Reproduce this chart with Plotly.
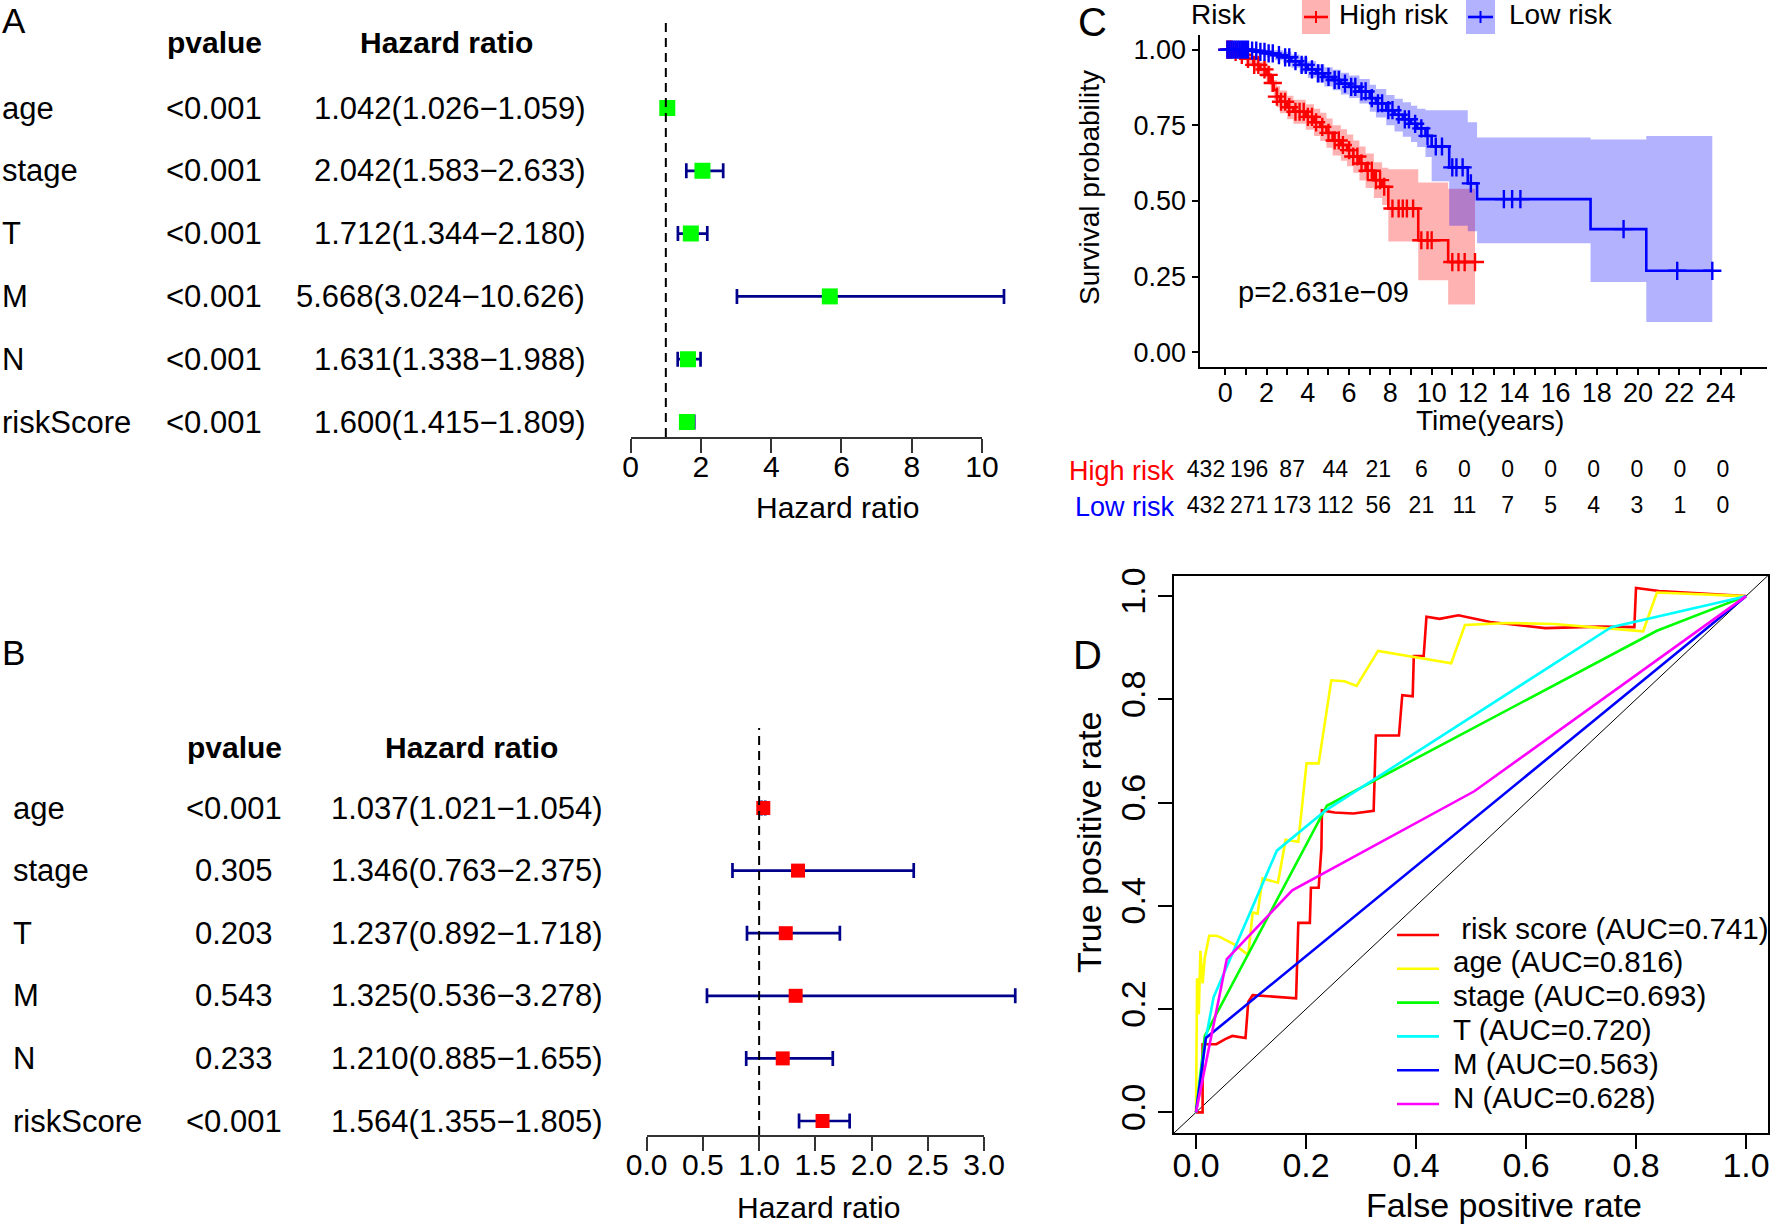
import numpy as np
import plotly.graph_objects as go

W, H = 1770, 1225
FONT = "Liberation Sans, Arial, Helvetica, sans-serif"

# ---------------- data ----------------
variables = ["age", "stage", "T", "M", "N", "riskScore"]

uni_p = ["<0.001", "<0.001", "<0.001", "<0.001", "<0.001", "<0.001"]
uni_hr = [1.042, 2.042, 1.712, 5.668, 1.631, 1.600]
uni_low = [1.026, 1.583, 1.344, 3.024, 1.338, 1.415]
uni_high = [1.059, 2.633, 2.180, 10.626, 1.988, 1.809]

multi_p = ["<0.001", "0.305", "0.203", "0.543", "0.233", "<0.001"]
multi_hr = [1.037, 1.346, 1.237, 1.325, 1.210, 1.564]
multi_low = [1.021, 0.763, 0.892, 0.536, 0.885, 1.355]
multi_high = [1.054, 2.375, 1.718, 3.278, 1.655, 1.805]

uni_ticks = [0, 2, 4, 6, 8, 10]
multi_ticks = [0.0, 0.5, 1.0, 1.5, 2.0, 2.5, 3.0]

# Kaplan-Meier
high_time = [0, 0.4, 0.7, 1.0, 1.36, 1.7, 2.0, 2.2, 2.35, 2.5, 2.65, 3.0, 3.3, 3.9, 4.3, 4.6, 4.9, 5.2,
             5.6, 5.9, 6.2, 6.5, 6.8, 7.2, 7.6, 7.9, 9.35, 10.8]
high_surv = [1.0, 0.993, 0.983, 0.97, 0.95, 0.935, 0.917, 0.89, 0.867, 0.845, 0.828, 0.81, 0.795, 0.778,
             0.76, 0.745, 0.725, 0.70, 0.685, 0.668, 0.647, 0.624, 0.60, 0.569, 0.547, 0.475, 0.37, 0.298]
high_upper = [1.0, 1.0, 0.995, 0.988, 0.972, 0.96, 0.945, 0.92, 0.9, 0.88, 0.865, 0.848, 0.835, 0.82,
              0.805, 0.792, 0.773, 0.75, 0.737, 0.72, 0.70, 0.68, 0.657, 0.628, 0.61, 0.605, 0.561, 0.54]
high_lower = [1.0, 0.985, 0.97, 0.952, 0.928, 0.91, 0.89, 0.86, 0.835, 0.81, 0.79, 0.77, 0.755, 0.735,
              0.715, 0.698, 0.676, 0.65, 0.633, 0.615, 0.593, 0.568, 0.543, 0.51, 0.487, 0.366, 0.238, 0.158]
high_end = 12.1
high_censor = [0.1, 0.2, 0.3, 0.5, 0.8, 1.1, 1.4, 1.6, 1.9, 2.1, 2.3, 2.5, 2.7, 2.9, 3.1, 3.4, 3.6, 3.8,
               4.0, 4.2, 4.4, 4.7, 5.0, 5.3, 5.5, 5.7, 6.0, 6.2, 6.4, 6.6, 6.9, 7.1, 7.3, 7.5, 7.7, 8.1,
               8.4, 8.6, 8.8, 9.1, 9.5, 9.8, 10.0, 11.0, 11.3, 11.6, 12.1]

low_time = [0, 1.2, 1.6, 2.0, 2.4, 2.8, 3.2, 3.6, 4.0, 4.4, 4.8, 5.2, 5.6, 6.0, 6.5, 7.0, 7.3, 7.8, 8.2,
            8.6, 9.0, 9.3, 9.7, 10.0, 10.85, 11.75, 12.2, 17.7, 20.4]
low_surv = [1.0, 0.997, 0.993, 0.988, 0.982, 0.975, 0.962, 0.95, 0.935, 0.922, 0.91, 0.9, 0.888, 0.877,
            0.862, 0.84, 0.823, 0.80, 0.785, 0.77, 0.755, 0.74, 0.715, 0.68, 0.611, 0.558, 0.506, 0.407, 0.269]
low_upper = [1.0, 1.0, 1.0, 1.0, 0.998, 0.993, 0.984, 0.975, 0.962, 0.952, 0.942, 0.934, 0.924, 0.915,
             0.903, 0.884, 0.87, 0.85, 0.838, 0.826, 0.815, 0.805, 0.80, 0.80, 0.80, 0.76, 0.71, 0.703, 0.715]
low_lower = [1.0, 0.99, 0.984, 0.975, 0.965, 0.955, 0.94, 0.925, 0.907, 0.892, 0.878, 0.866, 0.852, 0.84,
             0.822, 0.795, 0.776, 0.75, 0.73, 0.712, 0.695, 0.678, 0.645, 0.565, 0.418, 0.40, 0.36, 0.232, 0.10]
low_end = 23.6
low_censor = [0.1, 0.2, 0.3, 0.4, 0.5, 0.6, 0.7, 0.8, 0.9, 1.0, 1.1, 1.3, 1.5, 1.7, 1.9, 2.1, 2.3, 2.6,
              2.9, 3.1, 3.4, 3.7, 3.9, 4.2, 4.5, 4.7, 5.0, 5.3, 5.5, 5.8, 6.1, 6.3, 6.6, 6.8, 7.1, 7.4,
              7.6, 7.9, 8.1, 8.4, 8.7, 8.9, 9.2, 9.5, 9.8, 10.2, 10.5, 11.0, 11.2, 11.5, 11.9, 13.5,
              13.9, 14.3, 19.3, 21.9, 23.6]
km_pvalue = "p=2.631e\u221209"

table_times = [0, 2, 4, 6, 8, 10, 12, 14, 16, 18, 20, 22, 24]
high_at_risk = [432, 196, 87, 44, 21, 6, 0, 0, 0, 0, 0, 0, 0]
low_at_risk = [432, 271, 173, 112, 56, 21, 11, 7, 5, 4, 3, 1, 0]
km_major_ticks = [0, 2, 4, 6, 8, 10, 12, 14, 16, 18, 20, 22, 24]
km_minor_ticks = list(range(0, 26))

# ROC curves
roc_names = ["risk score", "age", "stage", "T", "M", "N"]
roc_auc = [0.741, 0.816, 0.693, 0.720, 0.563, 0.628]
roc_colors = ["#FF0000", "#FFFF00", "#00FF00", "#00FFFF", "#0000FF", "#FF00FF"]
rs_fpr = [0, 0.012, 0.012, 0.037, 0.053, 0.066, 0.09, 0.095, 0.103, 0.153, 0.182, 0.186, 0.207, 0.209,
          0.223, 0.228, 0.229, 0.252, 0.286, 0.323, 0.327, 0.369, 0.375, 0.394, 0.396, 0.414, 0.419,
          0.443, 0.477, 0.535, 0.635, 0.734, 0.797, 0.8, 0.842, 1.0]
rs_tpr = [0, 0, 0.132, 0.132, 0.142, 0.148, 0.144, 0.214, 0.227, 0.224, 0.221, 0.367, 0.367, 0.435,
          0.435, 0.511, 0.585, 0.581, 0.579, 0.584, 0.73, 0.73, 0.808, 0.806, 0.884, 0.884, 0.96,
          0.956, 0.963, 0.95, 0.938, 0.941, 0.94, 1.016, 1.01, 1.0]
age_fpr = [0, 0.002, 0.005, 0.008, 0.012, 0.016, 0.024, 0.037, 0.045, 0.07, 0.095, 0.103, 0.112, 0.121,
           0.149, 0.163, 0.186, 0.201, 0.223, 0.246, 0.27, 0.292, 0.331, 0.464, 0.489, 0.568, 0.651,
           0.813, 0.838, 1.0]
age_tpr = [0, 0.26, 0.19, 0.313, 0.25, 0.3, 0.342, 0.342, 0.339, 0.325, 0.305, 0.387, 0.385, 0.453,
           0.445, 0.528, 0.524, 0.676, 0.676, 0.837, 0.835, 0.826, 0.894, 0.87, 0.944, 0.948, 0.946,
           0.932, 1.007, 1.0]
stage_fpr = [0, 0.016, 0.238, 0.838, 1.0]
stage_tpr = [0, 0.148, 0.594, 0.933, 1.0]
t_fpr = [0, 0.018, 0.032, 0.147, 0.236, 0.755, 1.0]
t_tpr = [0, 0.144, 0.223, 0.507, 0.585, 0.94, 1.0]
m_fpr = [0, 0.018, 1.0]
m_tpr = [0, 0.144, 1.0]
n_fpr = [0, 0.056, 0.175, 0.506, 1.0]
n_tpr = [0, 0.297, 0.43, 0.622, 1.0]
roc_fpr = [rs_fpr, age_fpr, stage_fpr, t_fpr, m_fpr, n_fpr]
roc_tpr = [rs_tpr, age_tpr, stage_tpr, t_tpr, m_tpr, n_tpr]
roc_ticks = [0.0, 0.2, 0.4, 0.6, 0.8, 1.0]


# ---------------- helpers ----------------
def xp(p):
    return p / W


def yp(p):
    return 1 - p / H


fig = go.Figure()
annotations = []
shapes = []


def txt(text, x, y, size, xanchor="center", yanchor="middle", color="black", bold=False,
        xref="paper", yref="paper", angle=0):
    annotations.append(dict(
        text=("<b>%s</b>" % text) if bold else text, x=x, y=y, xref=xref, yref=yref,
        xanchor=xanchor, yanchor=yanchor, showarrow=False, textangle=angle,
        font=dict(family=FONT, size=size, color=color)))


CI_COLOR = "#00008B"
AX_COLOR = "#333333"


def forest(hr, lo, hi, pvals, color, msize, xa, xd, ya, ticks, cfg, layout_axes):
    rows = np.arange(1, len(hr) + 1)
    hr = np.array(hr)
    lo = np.array(lo)
    hi = np.array(hi)
    fig.add_trace(go.Scatter(
        x=hr, y=rows, mode="markers", xaxis=xa, yaxis=ya, hoverinfo="skip",
        marker=dict(symbol="square", size=msize, color=color, line=dict(width=0)),
        error_x=dict(type="data", symmetric=False, array=hi - hr, arrayminus=hr - lo,
                     color=CI_COLOR, thickness=2.7, width=7.5)))
    # holder for the displayed axis
    fig.add_trace(go.Scatter(x=[ticks[0], ticks[-1]], y=[None, None], mode="markers",
                             xaxis=xd, yaxis=ya, hoverinfo="skip"))
    r0, gap = cfg["row0"], cfg["gap"]
    vb = 1 + (cfg["axis_py"] - r0) / gap
    vt = 1 + (cfg["top_py"] - r0) / gap
    x0, unit = cfg["x0px"], cfg["unit"]
    dr = cfg["data_range"]
    yname = "yaxis" + ya[1:]
    layout_axes["xaxis" + xa[1:]] = dict(
        domain=[xp(x0 + dr[0] * unit), xp(x0 + dr[1] * unit)], range=dr, visible=False,
        anchor=ya, showgrid=False, zeroline=False, automargin=False)
    layout_axes["xaxis" + xd[1:]] = dict(
        domain=[xp(x0 + ticks[0] * unit), xp(x0 + ticks[-1] * unit)],
        range=[ticks[0], ticks[-1]], anchor=ya, tickvals=ticks, tickformat=cfg["fmt"],
        showline=True, linecolor=AX_COLOR, linewidth=2, ticks="outside", ticklen=14, tickwidth=2,
        tickcolor=AX_COLOR, showgrid=False, zeroline=False, automargin=False,
        ticklabelstandoff=-12,
        tickfont=dict(family=FONT, size=30, color="black"))
    layout_axes[yname] = dict(domain=[yp(cfg["axis_py"]), yp(cfg["top_py"])], range=[vb, vt],
                              visible=False, anchor=xa, showgrid=False, zeroline=False,
                              automargin=False)
    shapes.append(dict(type="line", xref=xa, yref=ya + " domain", x0=1, x1=1, y0=0, y1=1,
                       line=dict(color="black", width=2, dash="9px,6px")))
    for i, r in enumerate(rows):
        txt(variables[i], xp(cfg["lab_x"]), r, 31, xanchor="left", yref=ya)
        txt(pvals[i], xp(cfg["p_x"]), r, 31, xanchor="center", yref=ya)
        txt("%.3f(%.3f\u2212%.3f)" % (hr[i], lo[i], hi[i]), xp(cfg["hr_x"]), r, 31,
            xanchor="right", yref=ya)
    txt("pvalue", xp(cfg["p_x"]), yp(cfg["head_py"]), 30, bold=True)
    txt("Hazard ratio", xp(cfg["head_hr_x"]), yp(cfg["head_py"]), 30, bold=True)
    txt("Hazard ratio", xp(cfg["title_x"]), yp(cfg["title_py"]), 30)


axes = {}

cfgA = dict(row0=108, gap=62.8, axis_py=437, top_py=22.6, x0px=630.7, unit=35.13,
            data_range=[-0.6, 11.6], fmt="d", lab_x=0, p_x=214, hr_x=587, head_py=43,
            head_hr_x=446, title_x=837, title_py=508)
forest(uni_hr, uni_low, uni_high, uni_p, "#00FF00", 16, "x", "x2", "y", uni_ticks, cfgA, axes)

cfgB = dict(row0=808, gap=62.6, axis_py=1135, top_py=728, x0px=646.7, unit=112.43,
            data_range=[-0.15, 3.6], fmt=".1f", lab_x=11, p_x=234, hr_x=604, head_py=747,
            head_hr_x=471, title_x=818, title_py=1207)
forest(multi_hr, multi_low, multi_high, multi_p, "#FF0000", 14, "x3", "x4", "y3", multi_ticks, cfgB, axes)

# ---------------- Kaplan-Meier ----------------
RED_FILL = "rgba(255,0,0,0.30)"
BLUE_FILL = "rgba(0,0,255,0.30)"


def step_at(times, values, t):
    idx = np.searchsorted(np.array(times), np.array(t), side="right") - 1
    return np.array(values)[idx]


for times, upper, lower, end, fill in [
        (high_time, high_upper, high_lower, high_end, RED_FILL),
        (low_time, low_upper, low_lower, low_end, BLUE_FILL)]:
    xs = list(times) + [end]
    fig.add_trace(go.Scatter(x=xs, y=list(upper) + [upper[-1]], mode="lines",
                             line=dict(width=0, shape="hv"), xaxis="x5", yaxis="y5", hoverinfo="skip"))
    fig.add_trace(go.Scatter(x=xs, y=list(lower) + [lower[-1]], mode="lines",
                             line=dict(width=0, shape="hv"), fill="tonexty", fillcolor=fill,
                             xaxis="x5", yaxis="y5", hoverinfo="skip"))

for times, surv, end, cens, col in [
        (high_time, high_surv, high_end, high_censor, "#FF0000"),
        (low_time, low_surv, low_end, low_censor, "#0000FF")]:
    fig.add_trace(go.Scatter(x=list(times) + [end], y=list(surv) + [surv[-1]], mode="lines",
                             line=dict(color=col, width=2.6, shape="hv"),
                             xaxis="x5", yaxis="y5", hoverinfo="skip"))
    fig.add_trace(go.Scatter(x=cens, y=step_at(times, surv, cens), mode="markers",
                             marker=dict(symbol="cross-thin-open", size=13, color=col,
                                         line=dict(color=col, width=2.4)),
                             xaxis="x5", yaxis="y5", hoverinfo="skip"))

km_axis_style = dict(showline=True, linecolor="black", linewidth=2, ticks="outside", ticklen=6,
                     tickwidth=2, tickcolor="black", showgrid=False, zeroline=False, automargin=False,
                     tickfont=dict(family=FONT, size=27, color="black"))
axes["xaxis5"] = dict(domain=[xp(1199.5), xp(1767)], range=[-1.25, 26.25], anchor="y5",
                      tickvals=km_major_ticks, ticklabelstandoff=-6,
                      minor=dict(tickvals=km_minor_ticks, ticks="outside", ticklen=6, tickwidth=2,
                                 tickcolor="black", showgrid=False),
                      **km_axis_style)
axes["yaxis5"] = dict(domain=[yp(367.3), yp(34.6)], range=[-0.05, 1.05], anchor="x5",
                      tickvals=[0, 0.25, 0.5, 0.75, 1.0], tickformat=".2f", **km_axis_style)

txt(km_pvalue, 0.5, 0.2, 29, xanchor="left", xref="x5", yref="y5")
txt("Survival probability", xp(1089), yp(188), 28, angle=-90)
txt("Time(years)", xp(1490), yp(420), 28)

# legend of KM
txt("Risk", xp(1189), yp(14), 28, xanchor="left")
for (p0, p1), col, fill, lab, lx in [((1302, 1330), "#FF0000", RED_FILL, "High risk", 1337),
                                      ((1466, 1495), "#0000FF", BLUE_FILL, "Low risk", 1507)]:
    shapes.append(dict(type="rect", xref="paper", yref="paper", x0=xp(p0), x1=xp(p1), y0=yp(34), y1=yp(0),
                       fillcolor=fill, line=dict(width=0)))
    shapes.append(dict(type="line", xref="paper", yref="paper", x0=xp(p0 + 2), x1=xp(p1 - 2),
                       y0=yp(17), y1=yp(17), line=dict(color=col, width=2.6)))
    shapes.append(dict(type="line", xref="paper", yref="paper", x0=xp((p0 + p1) / 2), x1=xp((p0 + p1) / 2),
                       y0=yp(11), y1=yp(23), line=dict(color=col, width=2)))
    txt(lab, xp(lx), yp(14), 28, xanchor="left")

# number-at-risk table
fig.add_trace(go.Scatter(x=table_times + table_times, y=[1] * len(table_times) + [2] * len(table_times),
                         text=[str(v) for v in high_at_risk + low_at_risk], mode="text",
                         textfont=dict(family=FONT, size=23, color="black"),
                         xaxis="x6", yaxis="y6", hoverinfo="skip"))
tab_x0, tab_unit = 1206.0, 21.54
axes["xaxis6"] = dict(domain=[xp(tab_x0 - tab_unit), xp(tab_x0 + 25 * tab_unit)], range=[-1, 25],
                      visible=False, anchor="y6", automargin=False)
axes["yaxis6"] = dict(domain=[yp(525), yp(453)], range=[2.5, 0.5], visible=False, anchor="x6",
                      automargin=False)
txt("High risk", xp(1177), 1, 27, xanchor="right", color="#FF0000", yref="y6")
txt("Low risk", xp(1177), 2, 27, xanchor="right", color="#0000FF", yref="y6")

# ---------------- ROC ----------------
for fpr, tpr, col in zip(roc_fpr, roc_tpr, roc_colors):
    fig.add_trace(go.Scatter(x=fpr, y=tpr, mode="lines", line=dict(color=col, width=2.6),
                             xaxis="x7", yaxis="y7", hoverinfo="skip"))
shapes.append(dict(type="line", xref="x7 domain", yref="y7 domain", x0=0, y0=0, x1=1, y1=1,
                   line=dict(color="black", width=1), layer="below"))
roc_axis_style = dict(showline=True, mirror=True, linecolor="black", linewidth=1.5, ticks="outside",
                      ticklen=14, tickwidth=1.5, tickcolor="black", showgrid=False, zeroline=False,
                      tickvals=roc_ticks, tickformat=".1f", automargin=False,
                      tickfont=dict(family=FONT, size=34, color="black"))
axes["xaxis7"] = dict(domain=[xp(1174), xp(1768)], range=[-0.04, 1.04], anchor="y7",
                      ticklabelstandoff=-13, **roc_axis_style)
axes["yaxis7"] = dict(domain=[yp(1133), yp(575.5)], range=[-0.04, 1.04], anchor="x7", tickangle=-90,
                      **roc_axis_style)
txt("False positive rate", xp(1504), yp(1205), 34)
txt("True positive rate", xp(1089), yp(843), 34, angle=-90)

for i, (name, auc, col) in enumerate(zip(roc_names, roc_auc, roc_colors)):
    ry = 935 + i * 33.8
    shapes.append(dict(type="line", xref="paper", yref="paper", x0=xp(1397), x1=xp(1439),
                       y0=yp(ry), y1=yp(ry), line=dict(color=col, width=2.6)))
    label = ("\u00a0" if i == 0 else "") + "%s (AUC=%.3f)" % (name, auc)
    txt(label, xp(1451), yp(ry - 7), 29.5, xanchor="left")

# ---------------- panel letters ----------------
txt("A", xp(0), yp(21), 35, xanchor="left")
txt("B", xp(0), yp(653), 35, xanchor="left")
txt("C", xp(1092), yp(22), 40)
txt("D", xp(1087), yp(655), 40)

fig.update_layout(
    width=W, height=H, margin=dict(l=0, r=0, t=0, b=0, autoexpand=False),
    paper_bgcolor="white", plot_bgcolor="rgba(0,0,0,0)",
    showlegend=False, font=dict(family=FONT, color="black"),
    annotations=annotations, shapes=shapes, **axes)

fig.write_html("out.html", config={"displayModeBar": False},
               post_script="document.body.style.margin='0';document.body.style.overflow='hidden';")
